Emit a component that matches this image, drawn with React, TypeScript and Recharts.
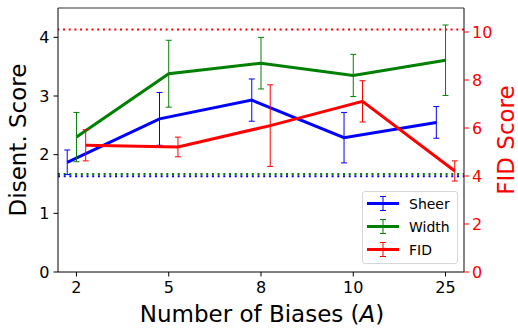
import React from 'react';
import { ComposedChart, Line, XAxis, YAxis, ErrorBar, ReferenceLine } from 'recharts';

const categories = ['2', '5', '8', '10', '25'];
const sheerScore = [1.87, 2.61, 2.93, 2.29, 2.55];
const sheerError = [0.21, 0.45, 0.36, 0.43, 0.27];
const widthScore = [2.3, 3.38, 3.56, 3.35, 3.61];
const widthError = [0.42, 0.57, 0.44, 0.36, 0.6];
const fidScore = [5.28, 5.21, 6.1, 7.11, 4.21];
const fidError = [0.65, 0.41, 1.7, 0.86, 0.42];
const leftTicks = [0, 1, 2, 3, 4];
const rightTicks = [0, 2, 4, 6, 8, 10];
const fidBaseline = 10.1;
const sheerBaseline = 1.63;
const widthBaseline = 1.67;

const BLUE = '#0000ff';
const GREEN = '#008000';
const RED = '#ff0000';
const FONT = '"DejaVu Sans", sans-serif';

const build = (vals: number[], errs: number[], shift: number) =>
  vals.map((v, i) => ({ x: i + shift, y: v, e: errs[i] }));

const sheerData = build(sheerScore, sheerError, -0.1);
const widthData = build(widthScore, widthError, 0);
const fidData = build(fidScore, fidError, 0.1);

const legendItems = [
  { name: 'Sheer', color: BLUE },
  { name: 'Width', color: GREEN },
  { name: 'FID', color: RED },
];

const LeftLabel = () => (
  <text
    x={18}
    y={140}
    transform="rotate(-90 18 140)"
    textAnchor="middle"
    dominantBaseline="central"
    fontSize={23}
    fontFamily={FONT}
    fill="#000"
  >
    Disent. Score
  </text>
);

const RightLabel = () => (
  <text
    x={506}
    y={140}
    transform="rotate(-90 506 140)"
    textAnchor="middle"
    dominantBaseline="central"
    fontSize={23}
    fontFamily={FONT}
    fill={RED}
  >
    FID Score
  </text>
);

const BottomLabel = () => (
  <text x={262} y={322} textAnchor="middle" fontSize={23} fontFamily={FONT} fill="#000">
    Number of Biases (<tspan fontStyle="italic">A</tspan>)
  </text>
);

const LegendBox = () => (
  <div
    style={{
      position: 'absolute',
      left: 362,
      top: 191,
      width: 96,
      height: 73,
      boxSizing: 'border-box',
      border: '1px solid #d6d6d6',
      borderRadius: 3,
      background: 'rgba(255,255,255,0.85)',
      pointerEvents: 'none',
    }}
  >
    <svg width={96} height={73} style={{ position: 'absolute', left: -1, top: -1 }}>
      {legendItems.map((it, i) => {
        const cy = 12.5 + i * 23;
        return (
          <g key={it.name}>
            <line x1={5} x2={37} y1={cy} y2={cy} stroke={it.color} strokeWidth={3} />
            <line x1={21} x2={21} y1={cy - 7} y2={cy + 7} stroke={it.color} strokeWidth={1} />
            <line x1={18} x2={24} y1={cy - 7} y2={cy - 7} stroke={it.color} strokeWidth={1} />
            <line x1={18} x2={24} y1={cy + 7} y2={cy + 7} stroke={it.color} strokeWidth={1} />
            <text x={47} y={cy} dominantBaseline="central" fontSize={14} fontFamily={FONT} fill="#000">
              {it.name}
            </text>
          </g>
        );
      })}
    </svg>
  </div>
);

export default function App() {
  return (
    <div style={{ position: 'absolute', left: 0, top: 0, width: 518, height: 328, background: '#fff', fontFamily: FONT }}>
      <ComposedChart width={518} height={328} margin={{ top: 8, right: 0, bottom: 0, left: 0 }}>
        <XAxis
          type="number"
          dataKey="x"
          domain={[-0.2, 4.2]}
          ticks={[0, 1, 2, 3, 4]}
          tickFormatter={(v: number) => categories[v] ?? ''}
          allowDataOverflow
          height={56}
          axisLine={{ stroke: '#000', strokeWidth: 1 }}
          tickLine={{ stroke: '#000' }}
          tickSize={4.5}
          tickMargin={5}
          tick={{ fontSize: 16, fill: '#000', fontFamily: FONT }}
          label={<BottomLabel />}
        />
        <YAxis
          yAxisId="left"
          orientation="left"
          domain={[0, 4.5]}
          ticks={leftTicks}
          allowDataOverflow
          width={58}
          axisLine={{ stroke: '#000', strokeWidth: 1 }}
          tickLine={{ stroke: '#000' }}
          tickSize={4.5}
          tickMargin={4}
          tick={{ fontSize: 16, fill: '#000', fontFamily: FONT }}
          label={<LeftLabel />}
        />
        <YAxis
          yAxisId="right"
          orientation="right"
          domain={[0, 11]}
          ticks={rightTicks}
          allowDataOverflow
          width={54}
          axisLine={{ stroke: '#333', strokeWidth: 1.2 }}
          tickLine={{ stroke: RED }}
          tickSize={5}
          tickMargin={3}
          tick={{ fontSize: 16, fill: RED, fontFamily: FONT }}
          label={<RightLabel />}
        />
        <ReferenceLine yAxisId="left" y={4.5} stroke="#333" strokeWidth={1.2} />
        <ReferenceLine yAxisId="right" y={fidBaseline} stroke={RED} strokeWidth={2} strokeDasharray="2 3.7" />
        <ReferenceLine yAxisId="left" y={widthBaseline} stroke={GREEN} strokeWidth={2} strokeDasharray="2 3.7" />
        <ReferenceLine yAxisId="left" y={sheerBaseline} stroke={BLUE} strokeWidth={2} strokeDasharray="2 3.7" />
        <Line
          yAxisId="left"
          data={sheerData}
          dataKey="y"
          name="Sheer"
          stroke={BLUE}
          strokeWidth={3}
          dot={false}
          activeDot={false}
          isAnimationActive={false}
        >
          <ErrorBar dataKey="e" direction="y" width={3} stroke={BLUE} strokeWidth={1} />
        </Line>
        <Line
          yAxisId="left"
          data={widthData}
          dataKey="y"
          name="Width"
          stroke={GREEN}
          strokeWidth={3}
          dot={false}
          activeDot={false}
          isAnimationActive={false}
        >
          <ErrorBar dataKey="e" direction="y" width={3} stroke={GREEN} strokeWidth={1} />
        </Line>
        <Line
          yAxisId="right"
          data={fidData}
          dataKey="y"
          name="FID"
          stroke={RED}
          strokeWidth={3}
          dot={false}
          activeDot={false}
          isAnimationActive={false}
        >
          <ErrorBar dataKey="e" direction="y" width={3} stroke={RED} strokeWidth={1} />
        </Line>
      </ComposedChart>
      <LegendBox />
    </div>
  );
}
